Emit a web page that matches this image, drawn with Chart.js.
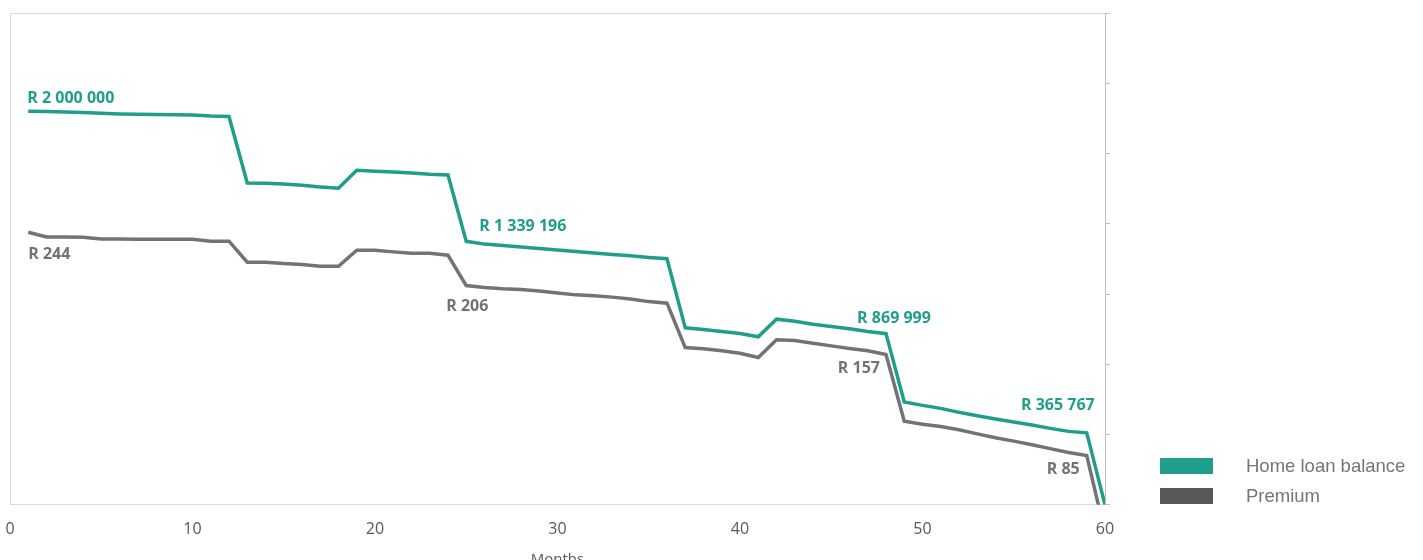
<!DOCTYPE html>
<html>
<head>
<meta charset="utf-8">
<script src="https://cdn.jsdelivr.net/npm/chart.js@4.4.1/dist/chart.umd.min.js"></script>
<style>
  html, body { margin: 0; padding: 0; background: #ffffff; }
  #wrap { width: 1423px; height: 560px; }
</style>
</head>
<body>
<div id="wrap"><canvas id="c" width="1423" height="560"></canvas></div>
<script>
// ---- data ----
const months = [1,2,3,4,5,6,7,8,9,10,11,12,13,14,15,16,17,18,19,20,21,22,23,24,25,26,27,28,29,30,
                31,32,33,34,35,36,37,38,39,40,41,42,43,44,45,46,47,48,49,50,51,52,53,54,55,56,57,58,59,60];

const loanBalance = [2000000,1999000,1996500,1994000,1990500,1987000,1985500,1984000,1983000,1982000,1976000,1974000,
                     1635800,1634200,1630700,1624000,1615500,1608800,1700400,1695300,1691900,1686700,1680000,1676500,
                     1339196,1325200,1318600,1310000,1303300,1294700,1288000,1279400,1272700,1266100,1257500,1250800,
                     899600,890900,880700,870600,853800,943500,933300,918000,906200,894500,880700,869999,
                     522800,505500,490300,470000,453100,436300,421000,405700,388400,373200,365767,0];

const premium = [244,240.6,240.5,240.4,239.2,239.1,239,239,239,239,237.6,237.6,
                 222.7,222.7,221.7,221,219.8,219.8,231.2,231.2,230,229,229,227.6,
                 206,204.6,203.7,203.2,202.2,200.8,199.4,198.7,197.8,196.5,194.6,193.5,
                 161.9,161,159.6,157.9,154.8,167.4,166.9,165,163.1,161.2,159.6,157,
                 109.5,107.4,105.7,103.4,100.5,97.7,95.3,92.7,90,87.2,85,30];

const seriesNames = ["Home loan balance", "Premium"];
const xTicks = [0, 10, 20, 30, 40, 50, 60];
const xTitle = "Months";
const labelledMonths = [1, 25, 48, 59];

// ---- styling ----
const TEAL = "#1f9e8c";
const GREY_LINE = "#737373";
const GREY_BOX = "#56585a";

function fmt(v) {
  return "R " + Math.round(v).toString().replace(/\B(?=(\d{3})+(?!\d))/g, " ");
}

// label placement per dataset / labelled month (style only)
const labelPlacement = [
  [ {align:"left", dx:-1, dy:-13}, {align:"left", dx:13, dy:-15}, {align:"center", dx:8, dy:-15}, {align:"right", dx:8, dy:-27} ],
  [ {align:"left", dx:0, dy:22},  {align:"center", dx:1, dy:21},  {align:"right", dx:-6, dy:14}, {align:"right", dx:-7, dy:14} ]
];

const valueLabels = {
  id: "valueLabels",
  afterDatasetsDraw(chart) {
    const ctx = chart.ctx;
    ctx.save();
    ctx.font = "bold 16px 'Open Sans'";
    ctx.textBaseline = "middle";
    chart.data.datasets.forEach((ds, di) => {
      const meta = chart.getDatasetMeta(di);
      labelledMonths.forEach((m, li) => {
        const idx = months.indexOf(m);
        const pt = meta.data[idx];
        const p = labelPlacement[di][li];
        ctx.fillStyle = di === 0 ? TEAL : GREY_LINE;
        ctx.textAlign = p.align;
        ctx.fillText(fmt(ds.data[idx].y), pt.x + p.dx, pt.y + p.dy);
      });
    });
    ctx.restore();
  }
};

const frame = {
  id: "frame",
  beforeDatasetsDraw(chart) {
    const a = chart.chartArea, ctx = chart.ctx;
    ctx.save();
    ctx.strokeStyle = "#d9d9d9";
    ctx.lineWidth = 1;
    ctx.beginPath();
    ctx.moveTo(a.right, a.top + 0.5);
    ctx.lineTo(a.left + 0.5, a.top + 0.5);
    ctx.lineTo(a.left + 0.5, a.bottom);
    ctx.stroke();
    ctx.restore();
  }
};

const sideLegend = {
  id: "sideLegend",
  afterDraw(chart) {
    const ctx = chart.ctx;
    const a = chart.chartArea;
    ctx.save();
    ctx.font = "18.5px 'Liberation Sans'";
    ctx.textBaseline = "middle";
    ctx.textAlign = "left";
    const boxX = a.right + 55;
    chart.data.datasets.forEach((ds, i) => {
      const cy = 466 + i * 30;
      ctx.fillStyle = ds.legendColor;
      ctx.fillRect(boxX, cy - 8, 53, 16);
      ctx.fillStyle = "#757575";
      ctx.fillText(ds.label, boxX + 86, cy + 1);
    });
    ctx.restore();
  }
};

new Chart(document.getElementById("c"), {
  type: "line",
  data: {
    datasets: [
      {
        label: seriesNames[0],
        data: months.map((m, i) => ({ x: m, y: loanBalance[i] })),
        borderColor: TEAL,
        legendColor: TEAL,
        borderWidth: 3.5,
        pointRadius: 0,
        tension: 0,
        yAxisID: "y"
      },
      {
        label: seriesNames[1],
        data: months.map((m, i) => ({ x: m, y: premium[i] })),
        borderColor: GREY_LINE,
        legendColor: GREY_BOX,
        borderWidth: 3.5,
        pointRadius: 0,
        tension: 0,
        yAxisID: "y2"
      }
    ]
  },
  options: {
    responsive: false,
    animation: false,
    devicePixelRatio: 1,
    layout: { padding: { left: 10, top: 13, right: 313, bottom: -9 } },
    plugins: { legend: { display: false }, tooltip: { enabled: false } },
    scales: {
      x: {
        type: "linear",
        min: 0, max: 60,
        afterBuildTicks(scale) { scale.ticks = xTicks.map(v => ({ value: v })); },
        afterFit(scale) { scale.paddingLeft = 0; scale.paddingRight = 0; },
        grid: { display: false, drawTicks: false },
        border: { display: true, color: "#d9d9d9", width: 1 },
        ticks: { color: "#595959", font: { family: "'Open Sans'", size: 16 }, padding: 15 },
        title: { display: true, text: xTitle, color: "#595959", font: { family: "'Open Sans'", size: 15 }, padding: { top: -3, bottom: 0 } }
      },
      y: {
        display: false,
        min: 0, max: 2500000
      },
      y2: {
        position: "right",
        min: 50, max: 400,
        ticks: { display: false, stepSize: 50 },
        grid: { drawOnChartArea: false, drawTicks: true, tickLength: 5, color: "#bfbfbf" },
        border: { display: true, color: "#bfbfbf", width: 1 }
      }
    }
  },
  plugins: [frame, valueLabels, sideLegend]
});
</script>
</body>
</html>
